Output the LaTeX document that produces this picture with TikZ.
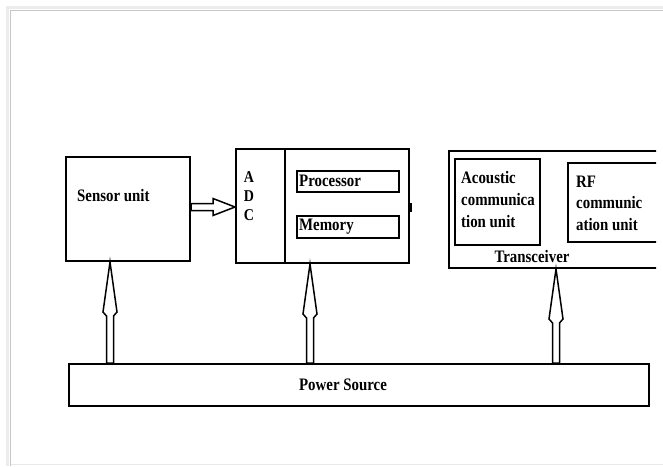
\documentclass[tikz,border=0pt]{standalone}
\usepackage{fontspec}
\setmainfont{Liberation Serif}
\newfontfamily\condserif[FakeStretch=0.85]{Liberation Serif}
\usetikzlibrary{calc}
\tikzset{
  box/.style={draw, line width=2pt, inner sep=0pt, anchor=north west},
  lbl/.style={font=\condserif\bfseries\fontsize{17.5}{22}\selectfont, inner sep=0pt, anchor=west, align=left},
  adcl/.style={font=\condserif\bfseries\fontsize{16.5}{19}\selectfont, inner sep=0pt, anchor=base},
  hollow/.style={draw, line width=1.5pt, fill=white, line join=miter},
  frameline/.style={draw=gray!45, line width=1.2pt},
}
\newcommand\powerarrow[2]{%
  \draw[hollow] let \p1=(#1), \p2=(#2) in
    (\x1-3.5pt,\y2) -- (\x1-3.5pt,\y1-54pt) -- (\x1-7pt,\y1-50pt) -- (\x1,\y1)
    -- (\x1+7pt,\y1-50pt) -- (\x1+3.5pt,\y1-54pt) -- (\x1+3.5pt,\y2) -- cycle;}
\begin{document}
\begin{tikzpicture}[x=1pt,y=-1pt]
\useasboundingbox[fill=white] (0,0) rectangle (663,466);
% page frame
\draw[gray!15, line width=3pt] (7,466) -- (7,7) -- (663,7);
\draw[frameline] (10.5,466) -- (10.5,10.5) -- (663,10.5);
\draw[gray!18, line width=1pt] (10.5,464.5) -- (663,464.5);

% sensor unit
\node[box, minimum width=124pt, minimum height=104pt] (sensor) at (65,156) {};
\node[lbl] (tsensor) at (77,196) {Sensor unit};

% ADC + processor + memory
\node[box, minimum width=173pt, minimum height=114pt] (adc) at (235,148) {};
\draw[line width=2pt] ($(adc.north west)+(50,0)$) coordinate (dtop) -- (dtop |- adc.south) coordinate (dbot);
\fill ($(adc.east)+(-1.5,-3)$) rectangle ($(adc.east)+(2,6)$);
\node[adcl] (ta) at (249,182) {A};
\node[adcl] (td) at (249,201) {D};
\node[adcl] (tc) at (249,220) {C};
\node[box, minimum width=102pt, minimum height=21pt] (proc) at (296,170) {};
\node[lbl] (tproc) at (299,181) {Processor};
\node[box, minimum width=102pt, minimum height=22pt] (mem) at (296,215) {};
\node[lbl] (tmem) at (299,227) {Memory};

% transceiver (clipped at the right)
\begin{scope}
\clip (0,0) rectangle (656,466);
\node[box, minimum width=240pt, minimum height=117pt] (trx) at (448,150) {};
\node[box, minimum width=120pt, minimum height=79pt] (rf) at (567,162) {};
\end{scope}
\node[box, minimum width=85pt, minimum height=86pt] (ac) at (454,158) {};
\node[lbl] (tac) at (461,200) {Acoustic\\communica\\tion unit};
\node[lbl, font=\condserif\bfseries\fontsize{17.5}{21.5}\selectfont] (trf) at (576,203) {RF\\communic\\ation unit};
\node[lbl, anchor=center] (ttrx) at (532,257) {Transceiver};

% power source
\node[box, minimum width=580pt, minimum height=42pt] (power) at (68,363) {};
\node[lbl, anchor=center] (tpower) at (343,385) {Power Source};

% connectors
\draw[hollow] let \p1=(sensor.east), \p2=(adc.west) in
  (\x1,\y1+5.5pt) -- (\x2-22pt,\y1+5.5pt) -- (\x2-22pt,\y1+10.5pt) -- (\x2,\y1+2pt)
  -- (\x2-22pt,\y1-6.5pt) -- (\x2-22pt,\y1-1.5pt) -- (\x1,\y1-1.5pt) -- cycle;
\powerarrow{$(sensor.south west)+(45,0)$}{power.north}
\powerarrow{$(adc.south west)+(75,0)$}{power.north}
\powerarrow{$(trx.south west)+(108,0)$}{power.north}
\end{tikzpicture}
\end{document}
